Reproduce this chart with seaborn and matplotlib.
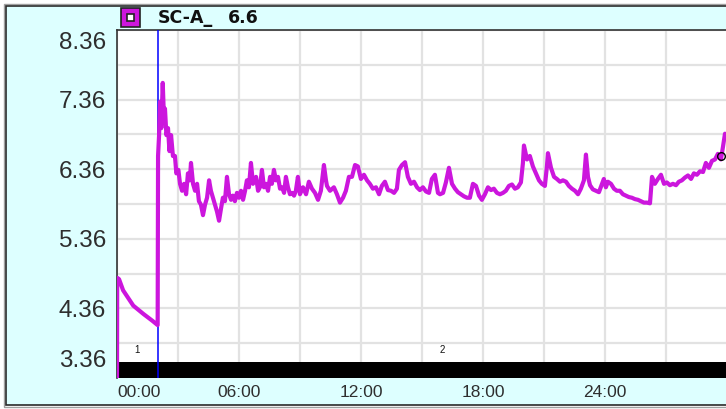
import matplotlib
matplotlib.use("Agg")
import numpy as np
import pandas as pd
import seaborn as sns
import matplotlib.pyplot as plt
from matplotlib.patches import Rectangle

# --- Data ---
time_h = [0.0, 0.01, 0.10, 0.30, 0.80, 1.30, 1.75, 2.00,
          2.02, 2.07, 2.12, 2.18, 2.25, 2.31, 2.36, 2.43, 2.51, 2.58, 2.66, 2.75,
          2.85, 2.92, 3.02, 3.10, 3.20, 3.30, 3.40, 3.49, 3.58, 3.64, 3.74, 3.84,
          3.94, 4.03, 4.13, 4.23, 4.33, 4.43, 4.53, 4.62, 4.72, 4.82, 4.92, 5.02,
          5.12, 5.21, 5.31, 5.41, 5.51, 5.61, 5.70, 5.80, 5.90, 6.00, 6.10, 6.20,
          6.30, 6.39, 6.49, 6.59, 6.69, 6.84, 6.94, 7.03, 7.13, 7.23, 7.33, 7.43,
          7.53, 7.62, 7.72, 7.82, 7.92, 8.02, 8.12, 8.22, 8.31, 8.41, 8.51, 8.61,
          8.71, 8.80, 8.90, 9.00, 9.15, 9.30, 9.44, 9.59, 9.74, 9.89, 10.03, 10.18,
          10.28, 10.33, 10.48, 10.67, 10.82, 10.97, 11.12, 11.26, 11.41, 11.56, 11.71, 11.85,
          12.00, 12.15, 12.30, 12.44, 12.59, 12.74, 12.89, 13.03, 13.18, 13.33, 13.48, 13.63,
          13.77, 13.87, 14.02, 14.17, 14.31, 14.46, 14.61, 14.76, 14.90, 15.05, 15.20, 15.35,
          15.49, 15.64, 15.79, 15.89, 16.04, 16.18, 16.33, 16.48, 16.63, 16.77, 16.92, 17.07,
          17.22, 17.36, 17.51, 17.66, 17.81, 17.95, 18.10, 18.25, 18.40, 18.54, 18.69, 18.84,
          18.99, 19.13, 19.28, 19.43, 19.58, 19.72, 19.87, 19.97, 20.02, 20.17, 20.31, 20.46,
          20.61, 20.76, 20.90, 21.05, 21.15, 21.20, 21.35, 21.50, 21.64, 21.79, 21.94, 22.09,
          22.23, 22.38, 22.53, 22.68, 22.82, 22.97, 23.07, 23.17, 23.27, 23.41, 23.56, 23.71,
          23.86, 23.95, 24.05, 24.15, 24.30, 24.45, 24.59, 24.74, 24.89, 25.04, 25.18, 25.33,
          25.48, 25.63, 25.77, 25.92, 26.07, 26.22, 26.32, 26.46, 26.61, 26.76, 26.91, 27.05,
          27.20, 27.35, 27.50, 27.64, 27.79, 27.94, 28.09, 28.24, 28.38, 28.53, 28.68, 28.83,
          28.97, 29.12, 29.27, 29.42, 29.56, 29.71, 29.81, 29.91]
sc_a = [3.36, 4.80, 4.78, 4.62, 4.40, 4.28, 4.18, 4.12,
        6.55, 6.85, 7.33, 6.95, 7.60, 7.10, 7.23, 6.85, 6.95, 6.62, 6.85, 6.55,
        6.55, 6.30, 6.35, 6.15, 6.05, 6.15, 6.00, 6.30, 6.20, 6.45, 6.15, 6.05,
        6.15, 5.90, 5.85, 5.70, 5.85, 5.95, 6.20, 6.05, 5.95, 5.85, 5.75, 5.62,
        5.80, 5.95, 5.90, 6.25, 6.00, 5.92, 5.98, 5.90, 6.02, 5.95, 6.05, 5.92,
        6.05, 6.20, 6.10, 6.45, 6.15, 6.25, 6.05, 6.10, 6.35, 6.10, 6.15, 6.05,
        6.25, 6.15, 6.35, 6.20, 6.25, 6.08, 6.10, 6.02, 6.25, 6.10, 6.00, 6.02,
        5.98, 6.05, 6.25, 6.00, 6.10, 6.00, 6.18, 6.08, 6.02, 5.92, 6.05, 6.42,
        6.20, 6.12, 6.05, 6.10, 6.00, 5.88, 5.95, 6.05, 6.25, 6.25, 6.42, 6.40,
        6.22, 6.28, 6.20, 6.15, 6.08, 6.10, 6.00, 6.12, 6.18, 6.06, 6.05, 6.02,
        6.08, 6.35, 6.42, 6.46, 6.25, 6.15, 6.18, 6.10, 6.06, 6.10, 6.04, 6.02,
        6.22, 6.28, 6.02, 6.00, 6.02, 6.17, 6.38, 6.15, 6.08, 6.03, 6.00, 5.97,
        5.95, 5.95, 6.15, 6.12, 5.98, 5.92, 6.00, 6.10, 6.06, 6.08, 6.02, 6.00,
        6.02, 6.05, 6.12, 6.14, 6.08, 6.10, 6.17, 6.45, 6.70, 6.50, 6.55, 6.40,
        6.30, 6.20, 6.15, 6.12, 6.40, 6.59, 6.38, 6.25, 6.22, 6.18, 6.20, 6.18,
        6.12, 6.08, 6.05, 6.00, 6.08, 6.20, 6.57, 6.25, 6.13, 6.07, 6.05, 6.03,
        6.15, 6.22, 6.10, 6.18, 6.15, 6.08, 6.05, 6.05, 6.00, 5.98, 5.96, 5.95,
        5.93, 5.92, 5.90, 5.88, 5.88, 5.87, 6.25, 6.15, 6.22, 6.28, 6.15, 6.17,
        6.13, 6.15, 6.13, 6.18, 6.20, 6.24, 6.27, 6.22, 6.30, 6.28, 6.33, 6.32,
        6.45, 6.38, 6.48, 6.50, 6.58, 6.50, 6.68, 6.87]

y_ticks = [3.36, 4.36, 5.36, 6.36, 7.36, 8.36]
y_ticklabels = ["3.36", "4.36", "5.36", "6.36", "7.36", "8.36"]
x_ticks = [0, 6, 12, 18, 24]
x_ticklabels = ["00:00", "06:00", "12:00", "18:00", "24:00"]
segment_labels = ["1", "2"]
segment_mid_h = [1.0, 16.0]
cursor_h = 2.02
marker_h, marker_val = 29.70, 6.55
series_name = "SC-A_"
header_value = "6.6"

df = pd.DataFrame({"time": time_h, "SC-A": sc_a})

LINE_COLOR = "#CC16DD"
BG = "#DDFFFF"
TXT = "#2E2E2E"

sns.set_style("white")
plt.rcParams["font.family"] = ["Liberation Sans", "DejaVu Sans"]

W, H = 726, 409
fig = plt.figure(figsize=(W / 100, H / 100), dpi=100)
fig.patch.set_facecolor("white")

# outer panel (behind the axes)
fig.add_artist(Rectangle((4 / W, 1 - 407 / H), 1, 403 / H, transform=fig.transFigure,
                         facecolor="none", edgecolor="#A0A0A0", lw=1.0, zorder=-20))
fig.add_artist(Rectangle((6 / W, 1 - 405 / H), 1, 399 / H, transform=fig.transFigure,
                         facecolor=BG, edgecolor="#2A2A2A", lw=1.2, zorder=-10))

ax = fig.add_axes([117 / W, 1 - 378 / H, 1 - 117 / W, 348 / H])
ax.set_facecolor("white")

ax.set_xlim(0, 29.96)
ax.set_ylim(3.36, 8.36)

# grid
ax.set_xticks(x_ticks)
ax.set_xticks(np.arange(3, 30, 6), minor=True)
ax.set_yticks(y_ticks)
ax.set_yticks(np.array(y_ticks[:-1]) + 0.5, minor=True)
ax.grid(True, which="both", color="#E2E2E2", lw=1.6, zorder=0)
ax.set_axisbelow(True)

# segment bar and markers
ax.axhspan(3.36, 3.59, color="black", lw=0, zorder=2)
ax.axvline(cursor_h, color="#0000FF", lw=1.1, zorder=3)
for lab, mid in zip(segment_labels, segment_mid_h):
    ax.text(mid, 3.76, lab, ha="center", va="center", fontsize=7, color="#111111", zorder=4)

sns.lineplot(data=df, x="time", y="SC-A", ax=ax, color=LINE_COLOR, lw=3.0,
             sort=False, estimator=None, zorder=5)
ax.plot([marker_h], [marker_val], marker="o", ms=5.5, mfc="none", mec="black",
        mew=1.0, zorder=6, clip_on=False)

ax.set_xlabel("")
ax.set_ylabel("")

# tick labels
ax.set_xticklabels(x_ticklabels, fontsize=12.5, color=TXT)
ax.get_xticklabels()[0].set_horizontalalignment("left")
ax.set_yticklabels([""] + y_ticklabels[1:-1] + [""], fontsize=17.5, color=TXT)
ax.annotate(y_ticklabels[0], (0, y_ticks[0]), xycoords=("axes fraction", "data"),
            xytext=(-8, 12), textcoords="offset points", ha="right", va="center",
            fontsize=17.5, color=TXT, annotation_clip=False)
ax.annotate(y_ticklabels[-1], (0, y_ticks[-1]), xycoords=("axes fraction", "data"),
            xytext=(-8, -9.5), textcoords="offset points", ha="right", va="center",
            fontsize=17.5, color=TXT, annotation_clip=False)
ax.tick_params(axis="x", which="both", length=0, pad=5)
ax.tick_params(axis="y", which="major", length=0, pad=8)
ax.tick_params(axis="y", which="minor", length=3, color="#BBBBBB", width=1)

for side in ["right", "bottom"]:
    ax.spines[side].set_visible(False)
for side in ["left", "top"]:
    ax.spines[side].set_color("#333333")
    ax.spines[side].set_linewidth(1.2)

# header legend
fig.add_artist(Rectangle((121 / W, 1 - 27 / H), 19 / W, 19 / H, transform=fig.transFigure,
                         facecolor=LINE_COLOR, edgecolor="#222222", lw=1.2))
fig.add_artist(Rectangle((127 / W, 1 - 21 / H), 7 / W, 7 / H, transform=fig.transFigure,
                         facecolor="white", edgecolor="#222222", lw=1.2))
fig.text(158 / W, 1 - 18 / H, series_name, fontsize=12.5, fontweight="bold",
         color="#111111", va="center", ha="left", family=["DejaVu Sans"])
fig.text(228 / W, 1 - 18 / H, header_value, fontsize=12.5, fontweight="bold",
         color="#111111", va="center", ha="left", family=["DejaVu Sans"])

fig.savefig("out.png", dpi=100, facecolor=fig.get_facecolor())
